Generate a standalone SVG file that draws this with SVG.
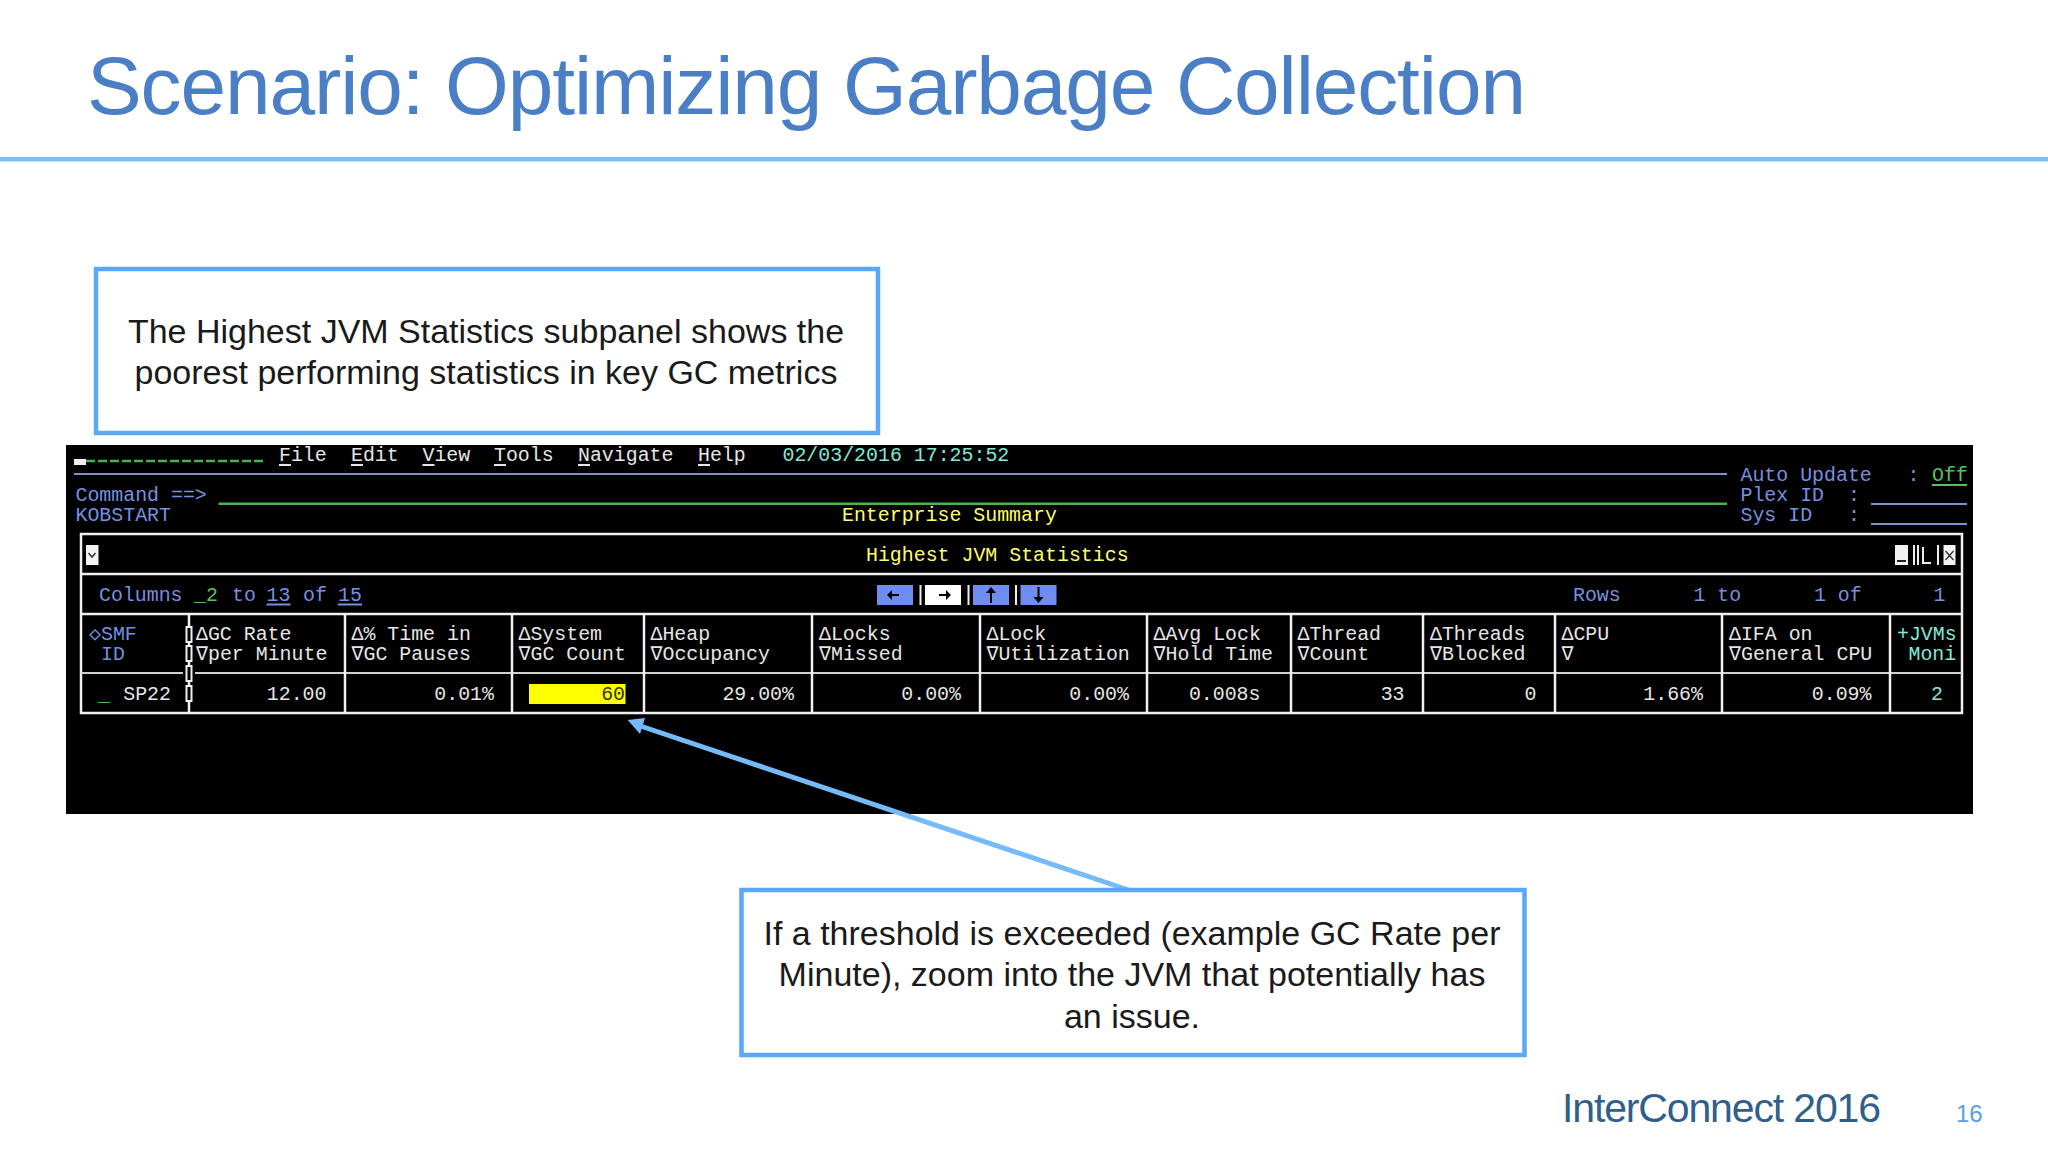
<svg xmlns="http://www.w3.org/2000/svg" width="2048" height="1152" viewBox="0 0 2048 1152">
<style>
.s{font-family:"Liberation Sans",Arial,sans-serif;fill:#1a1a1a}
.c{font-size:34px;text-anchor:middle}
.m{font-family:"Liberation Mono","DejaVu Sans Mono",monospace;font-size:19.9px;white-space:pre}
.w{fill:#e6e6e6}.b{fill:#7690e0}.g{fill:#55c060}.y{fill:#ffff66}.t{fill:#80e8d8}
.e{text-anchor:end}
.box{fill:#fff;stroke:#5ba8f5;stroke-width:4.500}
.gl{stroke:#f0f0f0;stroke-width:2.500;fill:none}
.tick{fill:#000;stroke:#eee;stroke-width:2}
.btn{fill:#6f8cf0}
.sep{fill:#eee}
</style>
<rect width="2048" height="1152" fill="#fff"/>
<g id="title">
<text class="s" x="87" y="114" font-size="82" style="fill:#4a7fc6" textLength="1439" lengthAdjust="spacing">Scenario: Optimizing Garbage Collection</text>
<rect x="0" y="157" width="2048" height="4.500" fill="#7dbdf3"/>
</g>
<g id="terminal">
<rect x="66" y="445" width="1907" height="369" fill="#000"/>
<rect x="74" y="459" width="12" height="6" fill="#eee"/>
<path d="M86 461H266" stroke="#4caf50" stroke-width="2.500" stroke-dasharray="9 3" fill="none"/>
<g class="m w">
<text x="279" y="461">File</text><text x="351" y="461">Edit</text><text x="422.500" y="461">View</text><text x="494" y="461">Tools</text><text x="578" y="461">Navigate</text><text x="698" y="461">Help</text>
</g>
<path d="M279 465h12M351 465h12M422.500 465h12M494 465h12M578 465h12M698 465h12" stroke="#e6e6e6" stroke-width="2"/>
<text class="m t" x="782.500" y="461">02/03/2016 17:25:52</text>
<rect x="74" y="473" width="1653" height="2" fill="#7a93d0"/>
<rect x="218.500" y="502.500" width="1508.500" height="2.500" fill="#4caf50"/>
<text class="m b" x="75.500" y="501">Command ==&gt;</text>
<text class="m b" x="75.500" y="521">KOBSTART</text>
<text class="m y" x="842" y="521">Enterprise Summary</text>
<text class="m b" x="1740.500" y="481">Auto Update   :</text>
<text class="m g" x="1932" y="481">Off</text>
<rect x="1932" y="484" width="35" height="2" fill="#55c060"/>
<text class="m b" x="1740.500" y="501">Plex ID  :</text>
<text class="m b" x="1740.500" y="521">Sys ID   :</text>
<rect x="1871" y="503" width="96" height="2" fill="#7a93d0"/>
<rect x="1871" y="523" width="96" height="2" fill="#7a93d0"/>
<g id="subpanel">
<rect class="gl" x="81" y="534" width="1881" height="179"/>
<path class="gl" d="M81 574H1962M81 614H1962"/>
<path d="M81 673H1962" stroke="#d0d0d0" stroke-width="2" fill="none"/>
<path class="gl" d="M189 614V713M345 614V713M512 614V713M644 614V713M812 614V713M980 614V713M1147 614V713M1291 614V713M1423 614V713M1555 614V713M1722 614V713M1890 614V713"/>
<rect class="tick" x="186.500" y="627" width="5" height="15"/>
<rect class="tick" x="186.500" y="646" width="5" height="15"/>
<rect class="tick" x="183" y="666" width="12" height="16" style="stroke:none"/>
<rect class="tick" x="186.500" y="666" width="5" height="15"/>
<rect class="tick" x="186.500" y="686" width="5" height="15"/>
<rect x="86" y="545" width="12.500" height="20" fill="#f2f2f2"/>
<path d="M88.500 553l3.500 4l3.500-4" stroke="#333" stroke-width="1.500" fill="none"/>
<text class="m y" x="866" y="561">Highest JVM Statistics</text>
<rect x="1895" y="545" width="13" height="20" fill="#f2f2f2"/><rect x="1897" y="560" width="9" height="2" fill="#222"/>
<rect x="1913" y="545" width="2" height="20" fill="#eee"/>
<rect x="1917" y="545" width="2" height="20" fill="#eee"/>
<path d="M1923 547V563H1931" stroke="#eee" stroke-width="2" fill="none"/>
<rect x="1937" y="545" width="2" height="20" fill="#eee"/>
<rect x="1943.500" y="545" width="12" height="20" fill="#f2f2f2"/><path d="M1945.500 551l8 9m0-9l-8 9" stroke="#333" stroke-width="1.300" fill="none"/>
<text class="m b" x="99" y="601">Columns</text><text class="m g" x="194" y="601">_2</text><text class="m b" x="232" y="601">to</text>
<text class="m b" x="266.500" y="601">13</text><text class="m b" x="303" y="601">of</text><text class="m b" x="338" y="601">15</text>
<rect x="266.500" y="603.500" width="24" height="2" fill="#7690e0"/><rect x="338" y="603.500" width="24" height="2" fill="#7690e0"/>
<rect class="btn" x="877" y="585" width="36" height="20"/><rect x="925" y="585" width="36" height="20" fill="#fff"/><rect class="btn" x="973" y="585" width="36" height="20"/><rect class="btn" x="1020.500" y="585" width="36" height="20"/>
<rect class="sep" x="919.500" y="585" width="2" height="20"/><rect class="sep" x="967.500" y="585" width="2" height="20"/><rect class="sep" x="1015" y="585" width="2" height="20"/>
<path d="M892 590l-5 5l5 5zM892 594h7v2h-7z M946 590l5 5l-5 5zM939 594h7v2h-7z M991 587l-5 6h4v10h2v-10h4z M1038.500 603l-5-6h4v-10h2v10h4z" fill="#000"/>
<text class="m b" x="1573" y="601">Rows</text><text class="m b" x="1693.500" y="601">1 to</text><text class="m b" x="1814" y="601">1 of</text><text class="m b" x="1933.500" y="601">1</text>
<g class="m w">
<text class="m b" x="89" y="640">◇SMF</text><text class="m b" x="101" y="660">ID</text>
<text x="196" y="640">ΔGC Rate</text><text x="196" y="660">∇per Minute</text>
<text x="351.500" y="640">Δ% Time in</text><text x="351.500" y="660">∇GC Pauses</text>
<text x="518.500" y="640">ΔSystem</text><text x="518.500" y="660">∇GC Count</text>
<text x="650.500" y="640">ΔHeap</text><text x="650.500" y="660">∇Occupancy</text>
<text x="819" y="640">ΔLocks</text><text x="819" y="660">∇Missed</text>
<text x="986.500" y="640">ΔLock</text><text x="986.500" y="660">∇Utilization</text>
<text x="1153.500" y="640">ΔAvg Lock</text><text x="1153.500" y="660">∇Hold Time</text>
<text x="1297.500" y="640">ΔThread</text><text x="1297.500" y="660">∇Count</text>
<text x="1430" y="640">ΔThreads</text><text x="1430" y="660">∇Blocked</text>
<text x="1561.500" y="640">ΔCPU</text><text x="1561.500" y="660">∇</text>
<text x="1729" y="640">ΔIFA on</text><text x="1729" y="660">∇General CPU</text>
</g>
<text class="m t" x="1897" y="640">+JVMs</text><text class="m t" x="1908.500" y="660">Moni</text>
<rect x="529" y="684" width="96.500" height="20" fill="#ffff00"/>
<text class="m g" x="98" y="701">_</text>
<g class="m w e">
<text x="171" y="700">SP22</text><text x="326.500" y="700">12.00</text><text x="494" y="700">0.01%</text>
<text x="794" y="700">29.00%</text><text x="961" y="700">0.00%</text><text x="1129" y="700">0.00%</text><text x="1260.500" y="700">0.008s</text>
<text x="1404.500" y="700">33</text><text x="1536.500" y="700">0</text><text x="1703" y="700">1.66%</text><text x="1871.500" y="700">0.09%</text>
</g>
<text class="m e" x="625" y="700" style="fill:#333300">60</text>
<text class="m t e" x="1943" y="700">2</text>
</g>
</g>
<g id="callout-top">
<rect class="box" x="96" y="269" width="782" height="164"/>
<text class="s c" x="486" y="343">The Highest JVM Statistics subpanel shows the</text>
<text class="s c" x="486" y="384">poorest performing statistics in key GC metrics</text>
</g>
<g id="connectors">
<path d="M1130 890.500L642 726.500" stroke="#74bbfb" stroke-width="5" fill="none"/>
<path d="M627.700 720L645 718L640 734z" fill="#74bbfb"/>
</g>
<g id="callout-bottom">
<rect class="box" x="741.500" y="890" width="783" height="165"/>
<text class="s c" x="1132" y="944.500">If a threshold is exceeded (example GC Rate per</text>
<text class="s c" x="1132" y="985.500">Minute), zoom into the JVM that potentially has</text>
<text class="s c" x="1132" y="1027.500">an issue.</text>
</g>
<g id="footer">
<text class="s" x="1562" y="1122" font-size="41" style="fill:#2f5f8a" textLength="319" lengthAdjust="spacing">InterConnect 2016</text>
<text class="s" x="1956" y="1122" font-size="24" style="fill:#5a9fe6">16</text>
</g>
</svg>
